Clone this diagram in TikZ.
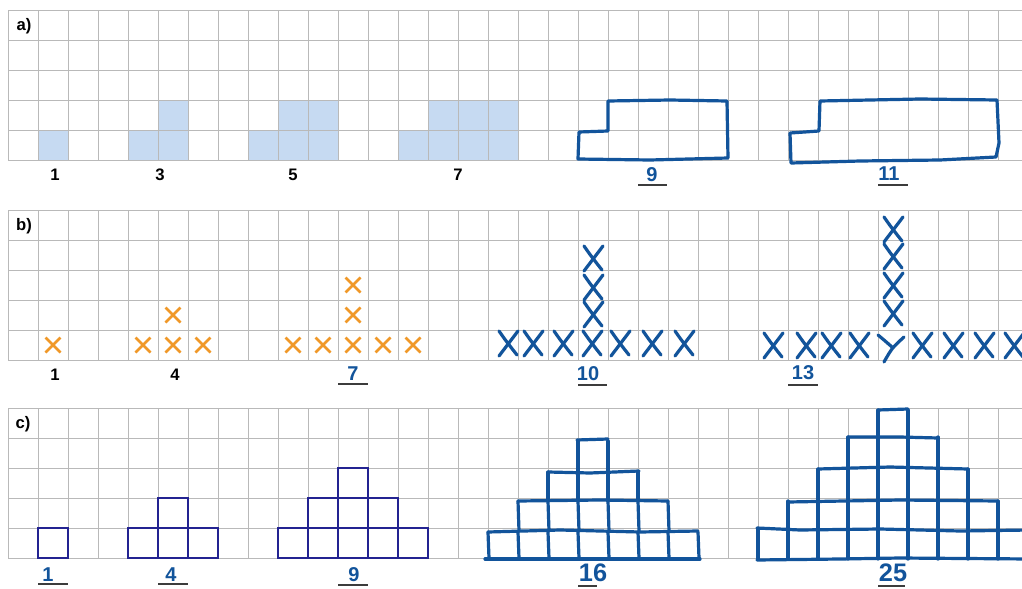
\documentclass[tikz,border=0pt]{standalone}
\usepackage{fontspec}
\setmainfont{Liberation Sans}
\definecolor{gridgray}{RGB}{185,185,185}
\definecolor{shadeblue}{RGB}{198,218,242}
\definecolor{xorange}{RGB}{240,152,40}
\definecolor{navy}{RGB}{35,35,145}
\definecolor{pen}{RGB}{18,84,155}
\definecolor{ulgray}{RGB}{60,60,60}
\newcommand\orangex[2]{\draw[oxstroke] (#1-7.5,#2-7.5) -- (#1+7.5,#2+7.5) (#1-7.5,#2+7.5) -- (#1+7.5,#2-7.5);}
\newcommand\handx[2]{\draw[penstroke] (#1-9,#2-12) .. controls (#1-2,#2-2) .. (#1+9,#2+12);
  \draw[penstroke] (#1+10,#2-12) .. controls (#1+1,#2) .. (#1-9,#2+13);}
\begin{document}
\begin{tikzpicture}[x=0.75pt,y=-0.75pt,
  gridline/.style={draw=gridgray,line width=0.75pt},
  oxstroke/.style={draw=xorange,line width=2.1pt},
  penstroke/.style={draw=pen,line width=2.4pt,line cap=round,line join=round},
  navybox/.style={draw=navy,line width=1.5pt},
  plabel/.style={font=\fontsize{12.5}{14}\selectfont\bfseries,text=black,inner sep=0pt},
  hlabel/.style={font=\fontsize{15}{17}\selectfont\bfseries,text=pen,inner sep=0pt},
  biglabel/.style={font=\fontsize{19}{21}\selectfont\bfseries,text=pen,inner sep=0pt},
  uline/.style={draw=ulgray,line width=1.4pt}]
\useasboundingbox (0,0) rectangle (1022,589);
\fill[white] (0,0) rectangle (1022,589);

% ---------- a) shading
\fill[shadeblue] (38,130) rectangle (68,160);
\fill[shadeblue] (128,130) rectangle (188,160) (158,100) rectangle (188,130);
\fill[shadeblue] (248,130) rectangle (338,160) (278,100) rectangle (338,130);
\fill[shadeblue] (398,130) rectangle (518,160) (428,100) rectangle (518,130);

% ---------- grids
\foreach \t in {10,210,408}{
  \foreach \k in {0,...,5}{\draw[gridline] (8,\t+30*\k) -- (1022,\t+30*\k);}
  \foreach \k in {0,...,33}{\draw[gridline] (8+30*\k,\t) -- (8+30*\k,\t+150);}
}

% ---------- section labels
\node[plabel] (pa) at (24,26) {a)};
\node[plabel] (pb) at (24,226) {b)};
\node[plabel] (pc) at (23,424) {c)};

% ---------- a) labels
\node[plabel] (a1) at (55,175) {1};
\node[plabel] (a3) at (160,175) {3};
\node[plabel] (a5) at (293,175) {5};
\node[plabel] (a7) at (458,175) {7};

% a) hand drawn 9
\draw[penstroke] (579,132) -- (578,159) -- (650,160) -- (728,158) -- (727,101) -- (670,100) -- (608,101) -- (608,131) -- cycle;
\node[hlabel] (a9) at (652,175) {9};
\draw[uline] (638,185) -- (667,185);
% a) hand drawn 11
\draw[penstroke] (790,133) -- (791,163) -- (860,161) -- (940,160) -- (996,157) -- (999,143) -- (997,100) -- (920,99) -- (820,101) -- (819,131) -- cycle;
\node[hlabel] (a11) at (889,174) {11};
\draw[uline] (878,185) -- (908,185);

% ---------- b)
\orangex{53}{345}
\orangex{143}{345}\orangex{173}{345}\orangex{203}{345}\orangex{173}{315}
\orangex{293}{345}\orangex{323}{345}\orangex{353}{345}\orangex{383}{345}\orangex{413}{345}
\orangex{353}{315}\orangex{353}{285}
\node[plabel] (b1) at (55,375) {1};
\node[plabel] (b4) at (175,375) {4};
\node[hlabel] (b7) at (353,374) {7};
\draw[uline] (338,384) -- (368,384);

% b) hand drawn 10
\foreach \xx in {508,533,563,592,620,652,684}{\handx{\xx}{343}}
\foreach \yy in {258,287,314}{\handx{593}{\yy}}
\node[hlabel] (b10) at (588,374) {10};
\draw[uline] (578,385) -- (607,385);

% b) hand drawn 13
\foreach \xx in {773,806,831,859,922,953,984,1014}{\handx{\xx}{345}}
\draw[penstroke] (878,335) .. controls (884,340) .. (892,347);
\draw[penstroke] (904,337) .. controls (892,348) .. (884,362);
\foreach \yy in {229,256,285,313}{\handx{893}{\yy}}
\node[hlabel] (b13) at (803,373) {13};
\draw[uline] (788,385) -- (818,385);

% ---------- c) printed squares
\draw[navybox] (38,528) rectangle (68,558);
\draw[navybox] (128,528) rectangle (218,558) (158,498) rectangle (188,528);
\foreach \xx in {158,188}{\draw[navybox] (\xx,528) -- (\xx,558);}
\draw[navybox] (278,528) rectangle (428,558) (308,498) rectangle (398,528) (338,468) rectangle (368,498);
\foreach \xx in {308,338,368,398}{\draw[navybox] (\xx,528) -- (\xx,558);}
\foreach \xx in {338,368}{\draw[navybox] (\xx,498) -- (\xx,528);}
\node[hlabel] (c1) at (48,575) {1};
\draw[uline] (38,584) -- (68,584);
\node[hlabel] (c4) at (171,575) {4};
\draw[uline] (158,584) -- (188,584);
\node[hlabel] (c9) at (354,575) {9};
\draw[uline] (338,585) -- (368,585);

% c) hand drawn 16
\begin{scope}[shift={(0,2)}]
\draw[penstroke] (485,557) -- (700,557);
\draw[penstroke] (488,530) -- (560,528) -- (640,530) -- (698,529);
\draw[penstroke] (518,499) -- (600,498) -- (668,499);
\draw[penstroke] (548,470) -- (590,471) -- (639,469);
\draw[penstroke] (577,438) -- (608,437);
\foreach \xx in {488,518,548,578,608,638,668,698}{\draw[penstroke] (\xx,530) -- (\xx+1,556);}
\foreach \xx in {518,548,578,608,638,668}{\draw[penstroke] (\xx,499) -- (\xx+1,529);}
\foreach \xx in {548,578,608,638}{\draw[penstroke] (\xx,470) -- (\xx,499);}
\foreach \xx in {578,608}{\draw[penstroke] (\xx,439) -- (\xx,469);}
\end{scope}
\node[biglabel] (c16) at (593,573) {16};
\draw[uline] (578,586) -- (597,586);

% c) hand drawn 25
\begin{scope}
\clip (0,0) rectangle (1022,589);
\draw[penstroke] (757,560) -- (840,559) -- (900,558) -- (1030,559);
\draw[penstroke] (757,528) -- (800,530) -- (880,529) -- (960,531) -- (1030,530);
\draw[penstroke] (788,502) -- (900,500) -- (998,501);
\draw[penstroke] (818,469) -- (890,467) -- (968,469);
\draw[penstroke] (848,437) -- (900,437) -- (938,438);
\draw[penstroke] (878,410) -- (908,409);
\foreach \xx in {758,788,818,848,878,908,938,968,998}{\draw[penstroke] (\xx,529) -- (\xx,559);}
\foreach \xx in {788,818,848,878,908,938,968,998}{\draw[penstroke] (\xx,501) -- (\xx,529);}
\foreach \xx in {818,848,878,908,938,968}{\draw[penstroke] (\xx,469) -- (\xx,501);}
\foreach \xx in {848,878,908,938}{\draw[penstroke] (\xx,437) -- (\xx,469);}
\foreach \xx in {878,908}{\draw[penstroke] (\xx,410) -- (\xx,437);}
\end{scope}
\node[biglabel] (c25) at (893,573) {25};
\draw[uline] (878,586) -- (905,586);
\end{tikzpicture}
\end{document}
